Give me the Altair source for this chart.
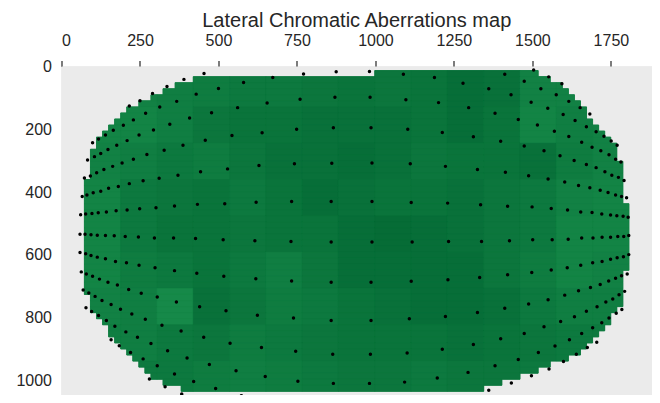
import altair as alt
import pandas as pd

TITLE = "Lateral Chromatic Aberrations map"
x_ticks = [0, 250, 500, 750, 1000, 1250, 1500, 1750]
y_ticks = [0, 200, 400, 600, 800, 1000]
x_max = 1881
y_max = 1046

# ---- aberration map grid (cell size in image pixels) ----
cell = 19.27
grid_x0 = 73
grid_y0 = 13
# first / last+1 column index of valid cells in each grid row
row_left = [48, 18, 15, 13, 11, 9, 7, 6, 5, 4, 3, 2, 2, 1, 1, 1, 1, 1,
            0, 0, 0, 0, 0, 0, 0, 0, 0, 0, 0, 0, 0, 0, 0, 0, 0, 0, 0,
            1, 1, 1, 2, 3, 4, 4, 5, 6, 7, 8, 9, 10, 11, 13, 16]
row_right = [75, 77, 79, 80, 81, 82, 83, 83, 84, 85, 86, 87, 88, 88, 88,
             89, 89, 89, 89, 89, 89, 89,
             90, 90, 90, 90, 90, 90, 90, 90, 90, 90, 90,
             89, 89, 89, 89, 89, 89, 88,
             87, 87, 86, 85, 84, 83, 82, 80, 77, 75, 72, 69, 66]
block = 6
# aberration magnitude per 6x6 block (0 = low / light, 1 = high / dark)
shade = [
    [0.35, 0.35, 0.40, 0.45, 0.50, 0.50, 0.55, 0.60, 0.55, 0.60, 0.70, 0.65, 0.35, 0.35, 0.35],
    [0.30, 0.30, 0.40, 0.55, 0.60, 0.60, 0.65, 0.65, 0.65, 0.60, 0.70, 0.60, 0.30, 0.40, 0.35],
    [0.35, 0.40, 0.50, 0.45, 0.55, 0.65, 0.65, 0.70, 0.65, 0.55, 0.60, 0.60, 0.65, 0.45, 0.35],
    [0.30, 0.50, 0.55, 0.60, 0.50, 0.60, 0.70, 0.65, 0.60, 0.60, 0.65, 0.55, 0.50, 0.35, 0.30],
    [0.30, 0.50, 0.60, 0.60, 0.55, 0.60, 0.60, 0.70, 0.75, 0.70, 0.65, 0.55, 0.50, 0.30, 0.30],
    [0.30, 0.45, 0.50, 0.60, 0.50, 0.40, 0.55, 0.70, 0.70, 0.70, 0.70, 0.55, 0.45, 0.30, 0.35],
    [0.35, 0.40, 0.20, 0.65, 0.55, 0.45, 0.50, 0.60, 0.65, 0.70, 0.70, 0.65, 0.50, 0.40, 0.40],
    [0.40, 0.40, 0.50, 0.55, 0.45, 0.50, 0.55, 0.60, 0.60, 0.60, 0.65, 0.60, 0.55, 0.50, 0.50],
    [0.45, 0.50, 0.50, 0.45, 0.40, 0.45, 0.50, 0.55, 0.55, 0.50, 0.55, 0.55, 0.50, 0.50, 0.50],
]
light_green = "#1b9450"
dark_green = "#005f2e"
mid_green = "#0b7a3e"
panel_gray = "#ebebeb"

# ---- detected calibration points (image pixels) ----
dots = [
    # upper left
    (390, 41), (454, 22), (673, 35), (771, 24), (875, 17), (336, 64), (290, 86), (250, 109), (216, 126),
    (99, 243), (118, 231), (140, 218), (165, 203), (197, 187), (229, 170), (268, 149), (313, 129),
    (367, 111), (429, 88), (500, 70), (580, 51),
    (83, 298), (105, 287), (125, 277), (148, 264), (176, 251), (209, 236), (247, 218), (293, 202),
    (345, 184), (408, 164), (478, 147), (561, 131), (655, 116), (760, 104), (871, 98),
    (73, 355), (92, 349), (112, 338), (135, 328), (163, 318), (193, 307), (229, 295), (272, 280),
    (327, 267), (387, 251), (458, 235), (543, 220), (639, 211), (749, 200), (866, 195),
    (66, 414), (81, 409), (101, 402), (125, 397), (150, 388), (181, 382), (216, 373), (260, 364),
    (311, 356), (371, 346), (443, 335), (529, 326), (629, 315), (742, 310), (861, 308),
    (61, 472), (77, 470), (97, 468), (117, 466), (143, 463), (174, 459), (209, 457), (249, 453),
    (301, 450), (360, 444), (433, 439), (520, 437), (620, 432), (733, 430), (859, 430),
    # lower left
    (59, 534), (75, 534), (94, 536), (114, 537), (140, 538), (168, 539), (203, 541), (245, 543),
    (296, 546), (357, 546), (427, 548), (515, 552), (616, 555), (731, 557), (859, 559),
    (59, 592), (77, 596), (94, 602), (114, 607), (140, 612), (172, 621), (207, 625), (247, 633),
    (298, 641), (360, 650), (431, 658), (517, 668), (619, 676), (733, 683), (859, 687),
    (63, 654), (79, 661), (99, 668), (121, 677), (148, 687), (178, 696), (214, 710), (254, 722),
    (305, 734), (366, 750), (440, 765), (524, 778), (624, 792), (739, 801), (859, 809),
    (69, 712), (87, 721), (107, 732), (129, 745), (158, 758), (188, 773), (224, 788), (267, 805),
    (320, 824), (381, 842), (453, 862), (537, 881), (637, 895), (746, 907), (864, 916),
    (78, 768), (96, 780), (118, 793), (143, 809), (170, 827), (205, 845), (242, 862), (285, 882),
    (338, 905), (400, 928), (471, 949), (556, 969), (649, 987), (753, 1002), (866, 1009),
    (158, 870), (184, 889), (220, 911), (260, 931), (305, 953), (360, 979), (421, 1003),
    (491, 1025), (573, 1048), (280, 995), (330, 1020), (383, 1043),
    # upper right
    (981, 16), (1089, 25), (1188, 35), (1279, 53), (1361, 71), (1432, 90), (1496, 114), (1549, 133),
    (1598, 153), (1636, 172), (1672, 192), (1703, 208), (1728, 222), (1751, 237), (1770, 251),
    (1412, 25), (1474, 47), (1527, 71), (1576, 90), (1616, 111), (1652, 131), (1683, 151),
    (1504, 11), (1552, 33), (1594, 55),
    (983, 98), (1097, 106), (1201, 115), (1297, 131), (1381, 149), (1455, 169), (1516, 186),
    (1570, 206), (1616, 223), (1657, 241), (1690, 257), (1718, 268), (1744, 281), (1765, 295), (1782, 304),
    (986, 195), (1103, 200), (1213, 210), (1312, 224), (1399, 238), (1474, 253), (1537, 268),
    (1588, 284), (1633, 299), (1672, 312), (1703, 322), (1731, 335), (1753, 346), (1774, 353), (1792, 363),
    (989, 307), (1111, 310), (1223, 318), (1325, 328), (1414, 337), (1488, 348), (1550, 358),
    (1603, 368), (1647, 379), (1683, 386), (1716, 394), (1741, 401), (1765, 409), (1784, 414), (1800, 418),
    (989, 430), (1114, 433), (1230, 435), (1335, 440), (1421, 445), (1499, 447), (1560, 452),
    (1612, 457), (1654, 463), (1690, 465), (1721, 470), (1749, 473), (1769, 475), (1789, 477), (1805, 480),
    # lower right
    (989, 559), (1117, 559), (1233, 557), (1338, 557), (1427, 555), (1501, 552), (1563, 552),
    (1614, 550), (1657, 546), (1693, 546), (1722, 544), (1749, 544), (1772, 541), (1791, 541), (1807, 538),
    (986, 687), (1114, 684), (1231, 679), (1332, 672), (1421, 663), (1498, 656), (1560, 648),
    (1611, 641), (1654, 633), (1692, 625), (1722, 621), (1749, 614), (1770, 609), (1790, 606), (1807, 599),
    (986, 809), (1108, 803), (1223, 796), (1325, 783), (1412, 770), (1488, 756), (1550, 743),
    (1603, 728), (1647, 714), (1685, 704), (1716, 694), (1743, 683), (1765, 674), (1784, 666), (1802, 661),
    (984, 916), (1101, 912), (1213, 900), (1312, 885), (1399, 867), (1474, 850), (1537, 829),
    (1590, 812), (1634, 797), (1672, 779), (1706, 765), (1734, 750), (1756, 740), (1776, 727), (1794, 716),
    (981, 1009), (1093, 1005), (1197, 992), (1295, 974), (1381, 953), (1455, 933), (1519, 911),
    (1572, 890), (1618, 870), (1657, 850), (1692, 832), (1721, 816), (1744, 801), (1767, 786), (1785, 774),
    (1277, 1054), (1361, 1031), (1433, 1008), (1497, 985), (1553, 963), (1599, 939), (1640, 916),
    (1675, 895), (1705, 878),
]

# ---- build tables ----
rows = []
blocks = []
for k in range(len(row_left)):
    y0 = grid_y0 + k * cell
    y1 = y0 + cell
    rows.append({"x0": grid_x0 + row_left[k] * cell, "x1": grid_x0 + row_right[k] * cell,
                 "y0": y0, "y1": y1})
    for c in range(len(shade[0])):
        a = max(row_left[k], c * block)
        b = min(row_right[k], (c + 1) * block)
        if a < b:
            blocks.append({"x0": grid_x0 + a * cell, "x1": grid_x0 + b * cell,
                           "y0": y0, "y1": y1, "v": shade[k // block][c]})
rows_df = pd.DataFrame(rows)
blocks_df = pd.DataFrame(blocks)
dots_df = pd.DataFrame(dots, columns=["x", "y"])
panel_df = pd.DataFrame([{"x0": 0, "x1": x_max, "y0": 0, "y1": y_max}])

FONT = "Liberation Sans"
TXT = "#262626"

xscale = alt.Scale(domain=[0, x_max], nice=False, zero=False)
yscale = alt.Scale(domain=[0, y_max], nice=False, zero=False, reverse=True)
xaxis = alt.Axis(orient="top", values=x_ticks, format="d", title=None, grid=False, domain=False,
                 tickSize=6, tickWidth=1.2, tickColor=TXT, labelPadding=12,
                 labelFont=FONT, labelFontSize=16, labelColor=TXT)
yaxis = alt.Axis(values=y_ticks, format="d", title=None, grid=False, domain=False, ticks=False,
                 labelPadding=10, labelFont=FONT, labelFontSize=16, labelColor=TXT)

panel = alt.Chart(panel_df).mark_rect(color=panel_gray).encode(
    x=alt.X("x0:Q", scale=xscale, axis=xaxis),
    x2="x1:Q",
    y=alt.Y("y0:Q", scale=yscale, axis=yaxis),
    y2="y1:Q",
)

base = alt.Chart(rows_df).mark_rect(color=mid_green, stroke=mid_green, strokeWidth=0.8).encode(
    x=alt.X("x0:Q", scale=xscale),
    x2="x1:Q",
    y=alt.Y("y0:Q", scale=yscale),
    y2="y1:Q",
)

cscale = alt.Scale(domain=[0, 1], range=[light_green, dark_green])
heat = alt.Chart(blocks_df).mark_rect(strokeWidth=0.5).encode(
    x=alt.X("x0:Q", scale=xscale),
    x2="x1:Q",
    y=alt.Y("y0:Q", scale=yscale),
    y2="y1:Q",
    color=alt.Color("v:Q", scale=cscale, legend=None),
    stroke=alt.Stroke("v:Q", scale=cscale, legend=None),
)

pts = alt.Chart(dots_df).mark_circle(size=12, color="#000000", opacity=1, clip=True).encode(
    x=alt.X("x:Q", scale=xscale),
    y=alt.Y("y:Q", scale=yscale),
)

chart = (panel + base + heat + pts).properties(
    width=590.5, height=328.5,
    autosize=alt.AutoSizeParams(type="none"),
    padding={"left": 53.5, "top": 58.5, "right": 0, "bottom": 0},
    title=alt.TitleParams(TITLE, font=FONT, fontSize=20, fontWeight="normal", color=TXT,
                          anchor="middle", offset=2),
).configure_view(stroke="transparent").configure(background="white")

chart.save("out.html", embed_options={"renderer": "svg", "actions": False})
